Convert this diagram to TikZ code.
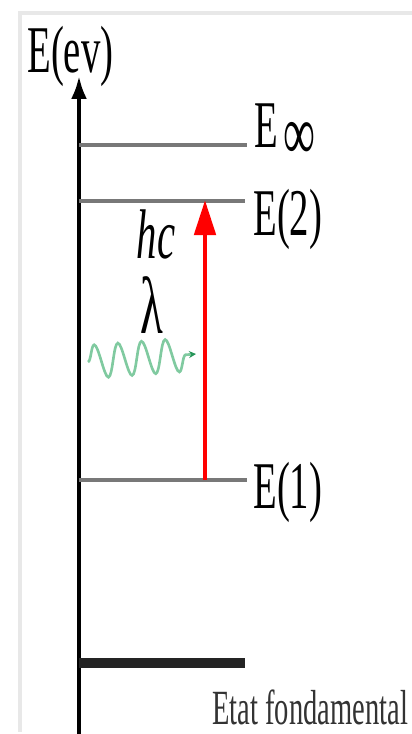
\documentclass[tikz,border=0pt]{standalone}
\usepackage{fontspec}
\usepackage{tikz}
\usetikzlibrary{arrows.meta,positioning,decorations.pathmorphing}
\newfontfamily\levelfont[FakeStretch=0.58]{Liberation Serif}
\definecolor{levelgray}{RGB}{120,120,120}
\definecolor{groundblack}{RGB}{36,36,36}
\definecolor{wavegreen}{RGB}{128,202,160}
\definecolor{wavetip}{RGB}{40,150,90}
\definecolor{framegray}{RGB}{232,232,232}
\tikzset{
  % --- Axe et niveaux d'energie ----------------------------------------------
  energyaxis/.style={draw=black, line width=2.2pt, -{Latex[length=13pt,width=9pt]}},
  levelline/.style={draw=levelgray, line width=2.3pt},
  groundline/.style={draw=groundblack, line width=6pt},
  framebox/.style={draw=framegray, line width=2.5pt},
  % --- Textes -----------------------------------------------------------------
  levellabel/.style={anchor=base west, inner sep=0pt,
    font=\levelfont\fontsize{38}{40}\selectfont},
  photonlabel/.style={anchor=base, inner sep=0pt,
    font=\levelfont\fontsize{40}{42}\selectfont},
  groundlabel/.style={anchor=base west, inner sep=0pt,
    font=\levelfont\fontsize{28}{30}\selectfont, text=black!80},
  % --- Transition et photon ---------------------------------------------------
  transarrow/.style={draw=red, line width=2.8pt, -{Triangle[length=20pt,width=12pt]}},
  photonwave/.style={draw=wavegreen, line width=1.5pt,
    decorate, decoration={snake, segment length=13.5pt, amplitude=9.5pt, post length=3pt},
    -{Stealth[length=4pt,width=4pt,color=wavetip]}},
}
\begin{document}
\begin{tikzpicture}[x=0.02cm, y=-0.02cm]
    \useasboundingbox (0,0) rectangle (412,734);
    \draw[framebox] (20,732) -- (20,13) -- (420,13);

    % axe
    \coordinate (axbot) at (79,734);
    \coordinate (axtop) at (79,76);
    \draw[energyaxis] (axbot) -- (axtop);
    \node[levellabel] (axlab) at (27,72) {E(ev)};

    % niveaux
    \coordinate (inf-l) at (79,145);  \coordinate (inf-r) at (247,145);
    \coordinate (e2-l) at (79,201);   \coordinate (e2-r) at (245,201);
    \coordinate (e1-l) at (79,480);   \coordinate (e1-r) at (247,480);
    \coordinate (e0-l) at (79,663);   \coordinate (e0-r) at (245,663);
    \draw[levelline] (inf-l) -- (inf-r);
    \draw[levelline] (e2-l) -- (e2-r);
    \draw[levelline] (e1-l) -- (e1-r);
    \draw[groundline] (e0-l) -- (e0-r);

    \node[levellabel] (inflab) at (254,147) {E\hspace{3pt}\raisebox{-7pt}{\fontsize{44}{44}\selectfont ∞}};
    \node[levellabel] (e2lab) at (253,235) {E(2)};
    \node[levellabel] (e1lab) at (253,508) {E(1)};
    \node[groundlabel] (e0lab) at (212,724) {Etat fondamental};

    % absorption
    \coordinate (e1-up) at (205,480);
    \coordinate (e2-up) at (205,200);
    \draw[transarrow] (e1-up) -- (e2-up);

    \node[photonlabel] (hc) at (156,258) {\itshape hc};
    \node[photonlabel, font=\levelfont\fontsize{46}{46}\selectfont] (lambda) at (152,333) {λ};
    \coordinate (wave-a) at (88,362);
    \coordinate (wave-b) at (196,354);
    \draw[photonwave] (wave-a) -- (wave-b);
  \end{tikzpicture}
\end{document}
